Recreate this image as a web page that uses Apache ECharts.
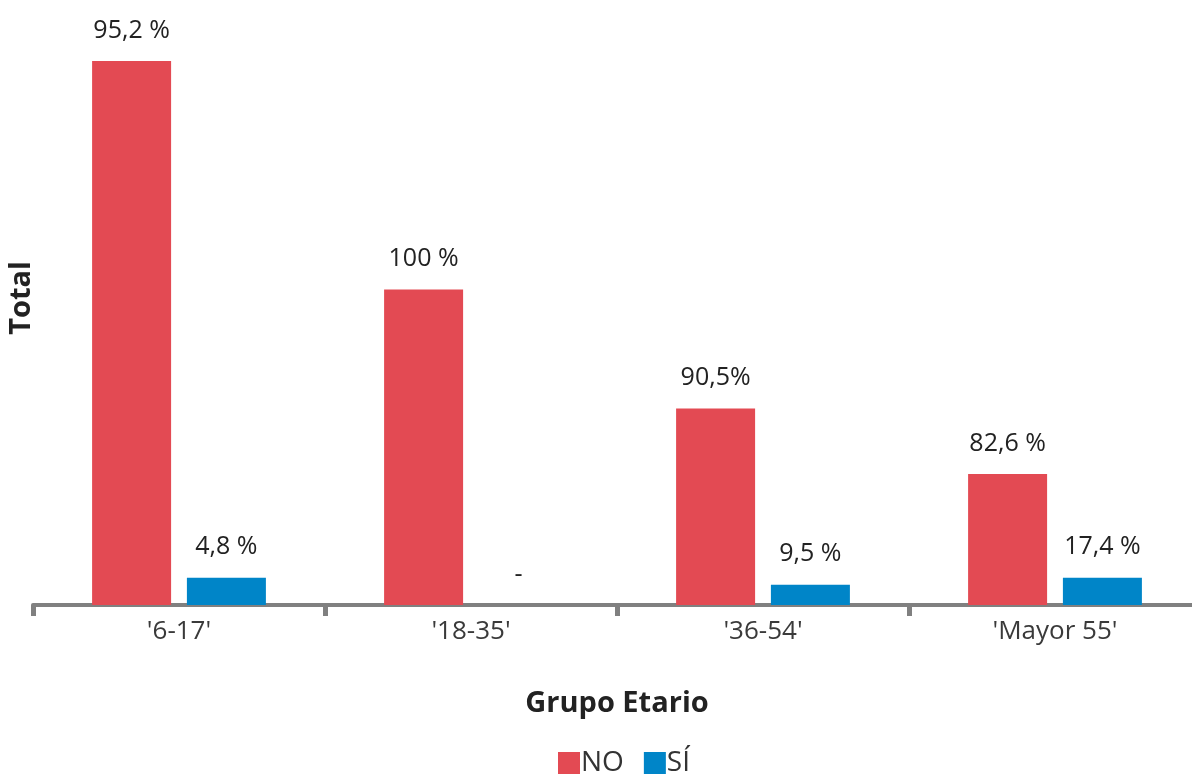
<!DOCTYPE html>
<html>
<head>
<meta charset="utf-8">
<script src="https://cdn.jsdelivr.net/npm/echarts@6/dist/echarts.min.js"></script>
<style>
  html, body { margin: 0; padding: 0; background: #fff; }
  #chart { width: 1192px; height: 776px; }
</style>
</head>
<body>
<div id="chart"></div>
<script>
// grupos etarios
const categories = ["'6-17'", "'18-35'", "'36-54'", "'Mayor 55'"]
// alturas de barra (sin eje visible)
const noValues = [100, 58.0, 36.1, 24.1]
const siValues = [5.0, 0, 3.7, 5.0]
// etiquetas que muestra el gráfico
const noLabels = ['95,2 %', '100 %', '90,5%', '82,6 %']
const siLabels = ['4,8 %', '-', '9,5 %', '17,4 %']

const font = 'Open Sans'

const chart = echarts.init(document.getElementById('chart'))

const labelStyle = (labels) => ({
  show: true,
  position: 'top',
  distance: 18,
  fontFamily: font,
  fontSize: 25,
  color: '#222',
  formatter: (p) => labels[p.dataIndex]
})

chart.setOption({
  animation: false,
  grid: { left: 33, right: -9, top: 61, bottom: 171, outerBoundsMode: 'none', containLabel: false },
  legend: {
    bottom: -6,
    left: 553,
    itemWidth: 22,
    itemHeight: 22,
    itemGap: 20,
    icon: 'rect',
    textStyle: { fontFamily: font, fontSize: 28, color: '#333', padding: [0, 0, 0, -4] },
    data: ['NO', 'SÍ']
  },
  graphic: [{
    type: 'text',
    x: 22,
    y: 298,
    rotation: Math.PI / 2,
    style: {
      text: 'Total',
      font: 'bold 29px "Open Sans"',
      fill: '#222',
      align: 'center',
      verticalAlign: 'middle'
    }
  }],
  xAxis: {
    type: 'category',
    data: categories,
    name: 'Grupo Etario',
    nameLocation: 'middle',
    nameGap: 84,
    nameTextStyle: { fontFamily: font, fontSize: 29, fontWeight: 'bold', color: '#222' },
    axisLine: { lineStyle: { color: '#808080', width: 4 } },
    axisTick: { show: true, length: 11, lineStyle: { color: '#808080', width: 5 } },
    axisLabel: { fontFamily: font, fontSize: 26, color: '#3a3a3a', margin: 14 }
  },
  yAxis: {
    type: 'value',
    min: 0,
    max: 100,
    axisLine: { show: false },
    axisTick: { show: false },
    axisLabel: { show: false },
    splitLine: { show: false }
  },
  series: [
    {
      name: 'NO',
      type: 'bar',
      data: noValues,
      barWidth: 79,
      barGap: '20%',
      itemStyle: { color: '#E34A53' },
      label: labelStyle(noLabels)
    },
    {
      name: 'SÍ',
      type: 'bar',
      data: siValues,
      barWidth: 79,
      itemStyle: { color: '#0085C8' },
      label: labelStyle(siLabels)
    }
  ]
})
</script>
</body>
</html>
